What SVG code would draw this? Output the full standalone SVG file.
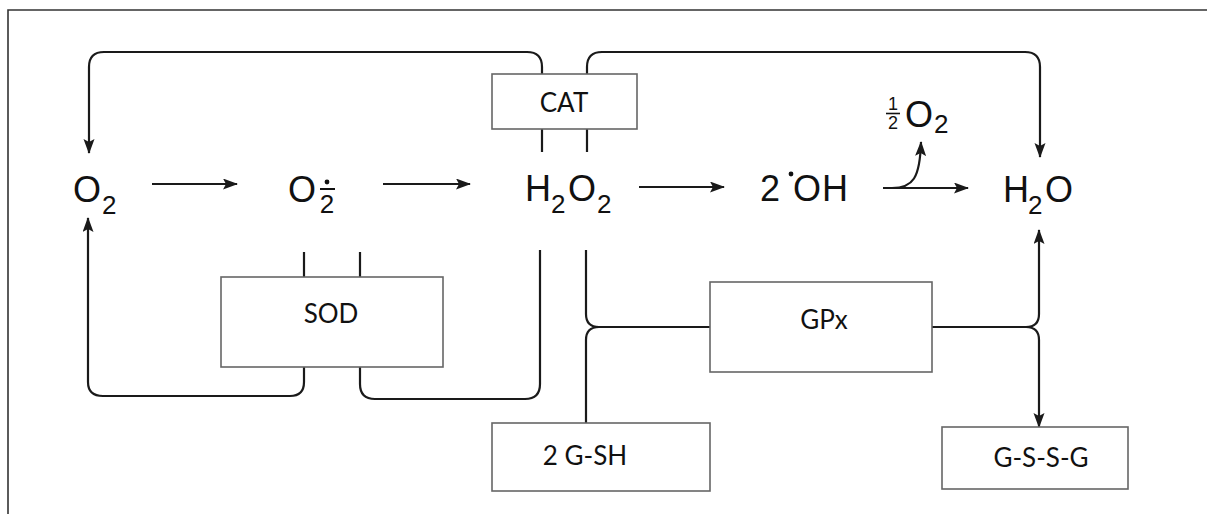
<svg xmlns="http://www.w3.org/2000/svg" width="1207" height="514" viewBox="0 0 1207 514">
<defs>
<marker id="ah" markerUnits="userSpaceOnUse" markerWidth="15" markerHeight="12" refX="14" refY="5.5" orient="auto">
<path d="M0,0 L15,5.5 L0,11 L3,5.5 z" fill="#1a1a1a"/>
</marker>
<style>
.chem{font-family:"Liberation Sans",Arial,sans-serif;font-size:36px;fill:#111}
.sub{font-family:"Liberation Sans",Arial,sans-serif;font-size:26px;fill:#111}
.small{font-family:"Liberation Sans",Arial,sans-serif;font-size:18px;fill:#111}
.box{fill:#fff;stroke:#666;stroke-width:1.6}
.lbl{font-family:Lato,"Liberation Sans",sans-serif;font-size:26px;fill:#111;text-anchor:middle}
.ln{fill:none;stroke:#1a1a1a;stroke-width:2.2}
.arr{fill:none;stroke:#1a1a1a;stroke-width:2.2;marker-end:url(#ah)}
</style>
</defs>
<rect width="1207" height="514" fill="#fff"/>
<path d="M8,514 V10 H1207" fill="none" stroke="#333" stroke-width="1.6"/>

<g id="connectors">
<path class="arr" d="M542,74 V67 Q542,52 527,52 H104 Q89,52 89,67 V153"/>
<path class="arr" d="M587,74 V67 Q587,52 602,52 H1025 Q1040,52 1040,67 V157"/>
<path class="ln" d="M542,129 V152 M587,129 V152"/>
<path class="ln" d="M304,252 V277 M360,252 V277"/>
<path class="arr" d="M304,367 V382 Q304,396 290,396 H103 Q88,396 88,382 V218"/>
<path class="ln" d="M360,367 V384 Q360,399 375,399 H525 Q540,399 540,384 V250"/>
<path class="ln" d="M586,250 V314 Q586,327 599,327 H710 M586,423 V340 Q586,327 599,327"/>
<path class="arr" d="M932,327 H1026 Q1039,327 1039,314 V230"/>
<path class="arr" d="M1026,327 Q1039,327 1039,340 V427"/>
<path class="arr" d="M152,184 H237"/>
<path class="arr" d="M383,184 H470"/>
<path class="arr" d="M639,187 H724"/>
<path class="arr" d="M883,188 H968"/>
<path class="arr" d="M892,188 C913,188 920,178 921,142"/>
</g>

<g id="o2">
<text class="chem" x="73" y="202">O</text>
<text class="sub" x="102" y="214">2</text>
</g>
<g id="superoxide">
<text class="chem" x="288" y="202">O</text>
<circle cx="327" cy="182" r="2.4" fill="#111"/>
<path d="M320,189 H335" stroke="#111" stroke-width="2"/>
<text class="sub" x="327" y="213" text-anchor="middle">2</text>
</g>
<g id="h2o2">
<text class="chem" x="525" y="201">H</text>
<text class="sub" x="551" y="213">2</text>
<text class="chem" x="568" y="201">O</text>
<text class="sub" x="597" y="213">2</text>
</g>
<g id="hydroxyl">
<text class="chem" x="760" y="201">2</text>
<circle cx="791" cy="174" r="2.4" fill="#111"/>
<text class="chem" x="793" y="201">O</text>
<text class="chem" x="822" y="201">H</text>
</g>
<g id="half-o2">
<text class="small" x="893" y="110" text-anchor="middle">1</text>
<path d="M886,113.5 H900" stroke="#111" stroke-width="1.6"/>
<text class="small" x="893" y="129" text-anchor="middle">2</text>
<text class="chem" x="905" y="127">O</text>
<text class="sub" x="934" y="133">2</text>
</g>
<g id="h2o">
<text class="chem" x="1003" y="202">H</text>
<text class="sub" x="1028" y="214">2</text>
<text class="chem" x="1045" y="202">O</text>
</g>

<g id="cat">
<rect class="box" x="492" y="74" width="145" height="55"/>
<text class="lbl" x="564" y="112">CAT</text>
</g>
<g id="sod">
<rect class="box" x="221" y="277" width="222" height="90"/>
<text class="lbl" x="331" y="323">SOD</text>
</g>
<g id="gpx">
<rect class="box" x="710" y="282" width="222" height="90"/>
<text class="lbl" x="824" y="329">GPx</text>
</g>
<g id="gsh">
<rect class="box" x="492" y="423" width="218" height="68"/>
<text class="lbl" x="585" y="465">2 G-SH</text>
</g>
<g id="gssg">
<rect class="box" x="942" y="427" width="186" height="62"/>
<text class="lbl" x="1041" y="467">G-S-S-G</text>
</g>
</svg>
